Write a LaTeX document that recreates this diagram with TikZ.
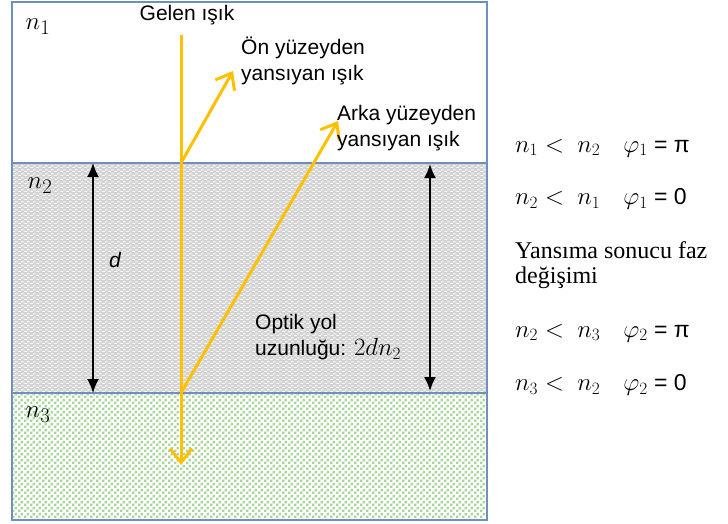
\documentclass[tikz,border=0pt]{standalone}
\usepackage{fontspec}
\setmainfont{Liberation Sans}
\newfontfamily\timesfont{Liberation Serif}
\usepackage{tikz}
\usetikzlibrary{arrows.meta, patterns}

\definecolor{rayorange}{HTML}{FFC000}
\definecolor{borderblue}{HTML}{6F8FBF}
\definecolor{layergray}{HTML}{D3D3D3}
\definecolor{layergreen}{HTML}{A8D698}

\pgfdeclarepatternformonly{dashgrid}{\pgfpointorigin}{\pgfqpoint{6pt}{4pt}}{\pgfqpoint{6pt}{4pt}}{
    \pgfpathrectangle{\pgfqpoint{0.5pt}{0pt}}{\pgfqpoint{3pt}{1.2pt}}
    \pgfpathrectangle{\pgfqpoint{3.5pt}{2pt}}{\pgfqpoint{3pt}{1.2pt}}
    \pgfusepath{fill}}
\pgfdeclarepatternformonly{squaregrid}{\pgfpointorigin}{\pgfqpoint{6pt}{6pt}}{\pgfqpoint{6pt}{6pt}}{
    \pgfpathrectangle{\pgfqpoint{0pt}{0pt}}{\pgfqpoint{2.8pt}{2.8pt}}
    \pgfpathrectangle{\pgfqpoint{3pt}{3pt}}{\pgfqpoint{2.8pt}{2.8pt}}
    \pgfusepath{fill}}

\begin{document}
\begin{tikzpicture}[
    x=1pt, y=-1pt,
    label/.style={
        font=\fontsize{21}{26}\selectfont,
        align=left,
        inner sep=0pt
    },
    index/.style={font=\fontsize{29}{29}\selectfont, inner sep=0pt},
    phase/.style={font=\fontsize{23}{26}\selectfont, anchor=west, inner sep=0pt},
    ray/.style={rayorange, line width=3pt, -{Straight Barb[length=14pt, width=22pt, line width=3pt]}},
    thick/.style={line width=2pt, {Latex[length=14pt, width=12pt]}-{Latex[length=14pt, width=12pt]}}
]
\useasboundingbox (0,0) rectangle (728,524);

% Layers
\fill[white] (12,2) rectangle (487,163);
\fill[layergray] (12,163) rectangle (487,393);
\fill[pattern=dashgrid, pattern color=white] (12,163) rectangle (487,393);
\fill[pattern=squaregrid, pattern color=layergreen] (12,393) rectangle (487,520);
\draw[borderblue, line width=1.5pt] (12,2) rectangle (487,520);
\draw[borderblue, line width=1.5pt] (12,163) -- (487,163);
\draw[borderblue, line width=1.5pt] (12,393) -- (487,393);

% Indices
\node[index] (n1) at (38,27) {$n_1$};
\node[index] (n2) at (40,186) {$n_2$};
\node[index] (n3) at (38,415) {$n_3$};

% Ray points
\coordinate (source) at (181,35);
\coordinate (front) at (181,163);
\coordinate (back) at (181,393);
\coordinate (deep) at (181,465);
\coordinate (fronttip) at (233,71);
\coordinate (backtip) at (338,121);

% Rays
\draw[rayorange, line width=3pt] (source) -- (back);
\draw[ray] (back) -- (deep);
\draw[ray] (front) -- (fronttip);
\draw[ray] (back) -- (backtip);

% Ray labels
\node[label] (incident) at (187,15) {Gelen ışık};
\node[label, anchor=west] (frontlbl) at (241,61) {Ön yüzeyden\\yansıyan ışık};
\node[label, anchor=west] (backlbl) at (337,128) {Arka yüzeyden\\yansıyan ışık};

% Thickness
\coordinate (dtop) at (93,163);
\coordinate (dbot) at (93,393);
\draw[thick] (dtop) -- (dbot);
\node[label] (dlbl) at (115,260) {\itshape d};

% Optical path
\coordinate (ptop) at (430,164);
\coordinate (pbot) at (430,391);
\draw[thick] (ptop) -- (pbot);
\node[label, anchor=west] (pathlbl) at (255,337) {Optik yol\\uzunluğu: {\fontsize{24}{26}\selectfont$2dn_2$}};

% Phase changes
\node[phase] (row1) at (515,148) {$n_1 <\ n_2$\quad $\varphi_1$ = π};
\node[phase] (row2) at (515,199) {$n_2 <\ n_1$\quad $\varphi_1$ = 0};
\node[phase, font=\timesfont\fontsize{24}{25}\selectfont, align=left] (phasetxt) at (515,265) {Yansıma sonucu faz\\değişimi};
\node[phase] (row3) at (515,333) {$n_2 <\ n_3$\quad $\varphi_2$ = π};
\node[phase] (row4) at (515,385) {$n_3 <\ n_2$\quad $\varphi_2$ = 0};

\end{tikzpicture}
\end{document}
